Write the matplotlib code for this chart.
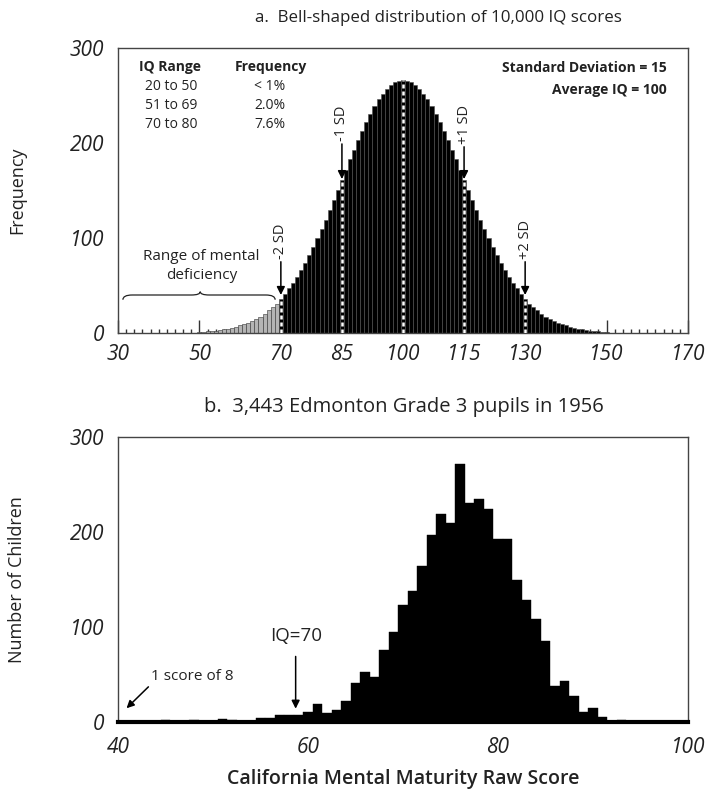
import matplotlib

matplotlib.use("Agg")
import matplotlib.pyplot as plt
from matplotlib.path import Path
from matplotlib.patches import PathPatch
from matplotlib.ticker import FixedLocator

plt.rcParams["font.family"] = ["Open Sans", "DejaVu Sans"]
plt.rcParams["text.color"] = "#222222"

# ── panel a: 10,000 IQ scores in one-point bins ──────────────────
iq_scores = list(range(50, 151))
iq_freq = [
    1, 1, 2, 2, 2, 3, 4, 4, 5, 6, 8, 9, 11, 13, 15, 17, 20, 24, 27, 31,   # 50-69
    36, 41, 47, 53, 59, 66, 74, 82, 91, 100,                               # 70-79
    109, 119, 129, 140, 151, 161, 172, 183, 193, 203,                      # 80-89
    213, 222, 231, 239, 246, 252, 257, 261, 264, 265,                      # 90-99
    266,                                                                   # 100
    265, 264, 261, 257, 252, 246, 239, 231, 222, 213,                      # 101-110
    203, 193, 183, 172, 161, 151, 140, 129, 119, 109,                      # 111-120
    100, 91, 82, 74, 66, 59, 53, 47, 41, 36,                               # 121-130
    31, 27, 24, 20, 17, 15, 13, 11, 9, 8,                                  # 131-140
    6, 5, 4, 4, 3, 2, 2, 2, 1, 1,                                          # 141-150
]
iq_ticks = [30, 50, 70, 85, 100, 115, 130, 150, 170]
sd_marks = [70, 85, 100, 115, 130]
sd_labels = {70: "-2 SD", 85: "-1 SD", 115: "+1 SD", 130: "+2 SD"}
deficiency_cut = 70

table_rows = [("20 to 50", "< 1%"), ("51 to 69", "2.0%"), ("70 to 80", "7.6%")]

# ── panel b: 3,443 Edmonton grade 3 pupils ───────────────────────
raw_scores = list(range(40, 94))
raw_counts = [
    0, 0, 0, 0, 1, 2, 1, 1, 2, 1,          # 40-49
    1, 3, 2, 1, 1, 4, 4, 7, 7, 7,          # 50-59
    11, 19, 9, 13, 22, 41, 53, 47, 76, 95,  # 60-69
    123, 138, 164, 197, 219, 210, 272, 231, 235, 224,  # 70-79
    193, 193, 150, 128, 108, 85, 38, 43, 27, 11,       # 80-89
    15, 5, 1, 2,                                       # 90-93
]
raw_ticks = [40, 60, 80, 100]
freq_ticks = [0, 100, 200, 300]

W, H = 705, 796
fig = plt.figure(figsize=(W / 100, H / 100), dpi=100)
ax1 = fig.add_axes([118 / W, 1 - 333 / H, 570 / W, 285 / H])
ax2 = fig.add_axes([118 / W, 1 - 722 / H, 570 / W, 285 / H])


def style_axes(ax):
    ax.set_axisbelow(True)
    for sp in ax.spines.values():
        sp.set_color("#444444")
        sp.set_linewidth(1.0)
    ax.set_yticks(freq_ticks)
    ax.yaxis.set_minor_locator(FixedLocator([100, 200]))
    ax.tick_params(axis="y", which="major", length=0, pad=10, labelsize=15,
                   labelcolor="#222222")
    ax.tick_params(axis="y", which="minor", direction="in", length=9.5,
                   width=1.0, color="#555555", left=True, right=True)
    ax.set_ylim(0, 300)


# ── top panel ────────────────────────────────────────────────────
style_axes(ax1)
face = ["#b4b4b4" if s < deficiency_cut else "black" for s in iq_scores]
edge = ["#333333" if s < deficiency_cut else "#505050" for s in iq_scores]
ax1.bar(iq_scores, iq_freq, width=1.0, color=face, edgecolor=edge, linewidth=0.4)
ax1.set_xlim(30, 170)
ax1.set_xticks(iq_ticks)
ax1.xaxis.set_minor_locator(FixedLocator(list(range(32, 170, 2))))
ax1.tick_params(axis="x", which="major", direction="in", length=9.5, width=1.0,
                color="#333333", pad=8, labelsize=15, labelcolor="#222222")
ax1.tick_params(axis="x", which="minor", direction="in", length=3.2, width=1.0,
                color="#333333")

height_at = dict(zip(iq_scores, iq_freq))
for m in sd_marks:
    ax1.plot([m, m], [0, height_at[m]], color="white", lw=1.8,
             dashes=(1.6, 1.2), solid_capstyle="butt", zorder=3)

# arrow tail / tip heights for each SD marker
sd_arrow = {70: (75, 40), 85: (199, 162), 115: (196, 162), 130: (75, 40)}
for m, lab in sd_labels.items():
    tail, tip = sd_arrow[m]
    ax1.text(m, tail + 3, lab, rotation=90, ha="center", va="bottom",
             fontsize=10.5)
    ax1.annotate("", xy=(m, tip), xytext=(m, tail),
                 arrowprops=dict(arrowstyle="-|>", color="black", lw=1.1,
                                 mutation_scale=12, shrinkA=0, shrinkB=0))

ax1.text(42.8, 280, "IQ Range", ha="center", va="center", fontsize=10,
         fontweight="bold")
ax1.text(67.5, 280, "Frequency", ha="center", va="center", fontsize=10,
         fontweight="bold")
for i, (rng, pct) in enumerate(table_rows):
    y = 259 - i * 20
    ax1.text(43, y, rng, ha="center", va="center", fontsize=10)
    ax1.text(67.3, y, pct, ha="center", va="center", fontsize=10)

ax1.text(164.7, 279, "Standard Deviation = 15", ha="right", va="center",
         fontsize=10, fontweight="bold")
ax1.text(164.7, 256, "Average IQ = 100", ha="right", va="center",
         fontsize=10, fontweight="bold")

ax1.text(50.5, 81, "Range of mental", ha="center", va="center", fontsize=11)
ax1.text(50.5, 61, "deficiency", ha="center", va="center", fontsize=11)

# curly brace over the deficiency range
x0, x1, xm = 31.2, 68.6, 50.2
yb, yl, yt = 35, 40, 43.5
verts = [(x0, yb), (x0, yl), (x0 + 2.3, yl), (xm - 2.2, yl), (xm, yl), (xm, yt),
         (xm, yl), (xm + 2.2, yl), (x1 - 2.3, yl), (x1, yl), (x1, yb)]
codes = [Path.MOVETO, Path.CURVE3, Path.CURVE3, Path.LINETO, Path.CURVE3,
         Path.CURVE3, Path.CURVE3, Path.CURVE3, Path.LINETO, Path.CURVE3,
         Path.CURVE3]
ax1.add_patch(PathPatch(Path(verts, codes), fill=False, lw=0.9, color="#222222"))

# ── bottom panel ─────────────────────────────────────────────────
style_axes(ax2)
ax2.bar(raw_scores, raw_counts, width=1.0, color="black", edgecolor="black",
        linewidth=0.3)
ax2.set_xlim(40, 100)
ax2.set_xticks(raw_ticks)
ax2.xaxis.set_minor_locator(FixedLocator([60, 80]))
ax2.tick_params(axis="x", which="major", length=0, pad=11, labelsize=15,
                labelcolor="#222222")
ax2.tick_params(axis="x", which="minor", direction="in", length=9.5, width=1.0,
                color="#444444", top=True, bottom=False)
ax2.spines["bottom"].set_linewidth(3)
ax2.spines["bottom"].set_color("black")

ax2.text(58.7, 91, "IQ=70", ha="center", va="center", fontsize=13.5)
ax2.annotate("", xy=(58.7, 14), xytext=(58.7, 69),
             arrowprops=dict(arrowstyle="-|>", color="black", lw=1.1,
                             mutation_scale=12, shrinkA=0, shrinkB=0))
ax2.text(43.5, 48, "1 score of 8", ha="left", va="center", fontsize=11)
ax2.annotate("", xy=(40.9, 14.5), xytext=(43.2, 37),
             arrowprops=dict(arrowstyle="-|>", color="black", lw=1.1,
                             mutation_scale=11, shrinkA=0, shrinkB=0))

for ax in (ax1, ax2):
    for lab in ax.get_xticklabels() + ax.get_yticklabels():
        lab.set_fontstyle("italic")

# ── titles and axis labels ───────────────────────────────────────
fig.text(438 / W, 1 - 18 / H, "a.  Bell-shaped distribution of 10,000 IQ scores",
         ha="center", va="center", fontsize=12.2)
fig.text(404 / W, 1 - 407 / H, "b.  3,443 Edmonton Grade 3 pupils in 1956",
         ha="center", va="center", fontsize=14.5)
fig.text(17 / W, 1 - 190 / H, "Frequency", rotation=90, ha="center",
         va="center", fontsize=13)
fig.text(17 / W, 1 - 580 / H, "Number of Children", rotation=90, ha="center",
         va="center", fontsize=13)
fig.text(403 / W, 1 - 779 / H, "California Mental Maturity Raw Score",
         ha="center", va="center", fontsize=14, fontweight="semibold")

fig.savefig("out.png", dpi=100)
